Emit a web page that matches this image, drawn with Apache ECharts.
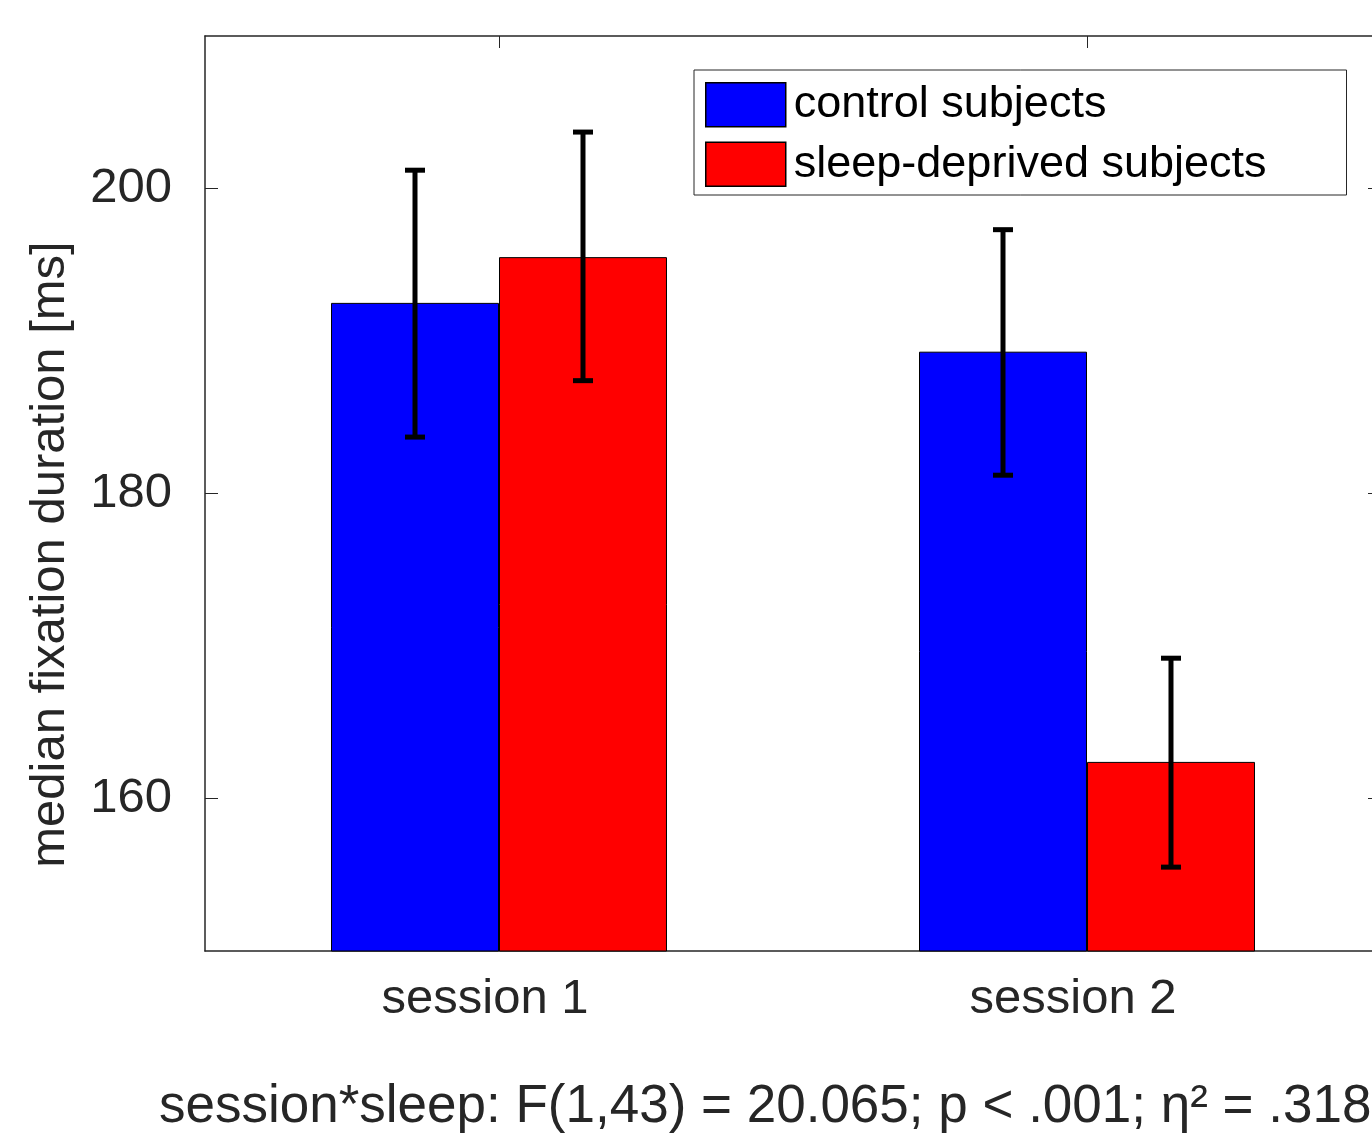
<!DOCTYPE html>
<html>
<head>
<meta charset="utf-8">
<script src="https://cdn.jsdelivr.net/npm/echarts@6/dist/echarts.min.js"></script>
<style>html,body{margin:0;padding:0;background:#fff;overflow:hidden;width:1372px;height:1143px;}#c{width:1400px;height:1143px;}</style>
</head>
<body>
<div id="c"></div>
<script>
const categories = ['session 1', 'session 2'];
const seriesNames = ['control subjects', 'sleep-deprived subjects'];
const controlMeans = [192.5, 189.3];
const sleepMeans = [195.5, 162.4];
const controlLow = [183.7, 181.2];
const controlHigh = [201.2, 197.3];
const sleepLow = [187.4, 155.5];
const sleepHigh = [203.7, 169.2];
const yTicks = [160, 180, 200];
const statsText = 'session*sleep: F(1,43) = 20.065; p < .001; η² = .318';

const FONT = '"Liberation Sans", Arial, Helvetica, sans-serif';
const TXT = '#262626';
const BAR_FRAC = 0.2857;

function errData(low, high) {
  return categories.map((c, i) => [i, low[i], high[i]]);
}
function makeErr(side) {
  return function (params, api) {
    const idx = api.value(0);
    const lo = api.coord([idx, api.value(1)]);
    const hi = api.coord([idx, api.value(2)]);
    const band = api.size([1, 0])[0];
    const off = side * band * BAR_FRAC / 2;
    const x = lo[0] + off;
    const cap = 10;
    const st = { stroke: '#000', lineWidth: 5 };
    return {
      type: 'group',
      children: [
        { type: 'line', shape: { x1: x, y1: lo[1], x2: x, y2: hi[1] }, style: st },
        { type: 'line', shape: { x1: x - cap, y1: lo[1], x2: x + cap, y2: lo[1] }, style: st },
        { type: 'line', shape: { x1: x - cap, y1: hi[1], x2: x + cap, y2: hi[1] }, style: st }
      ]
    };
  };
}

const chart = echarts.init(document.getElementById('c'), null, { renderer: 'canvas', width: 1400, height: 1143 });
chart.setOption({
  animation: false,
  backgroundColor: '#fff',
  textStyle: { fontFamily: FONT },
  title: {
    text: statsText,
    left: 159,
    top: 1081,
    padding: 0,
    textStyle: { fontFamily: FONT, fontSize: 53, fontWeight: 'normal', color: TXT }
  },
  legend: {
    orient: 'vertical',
    left: 694,
    top: 70,
    padding: [12, 80, 8, 11],
    itemWidth: 80,
    itemHeight: 44,
    itemGap: 14,
    borderColor: '#262626',
    borderWidth: 1,
    backgroundColor: '#fff',
    icon: 'rect',
    itemStyle: { borderColor: '#000', borderWidth: 1.5 },
    textStyle: { fontFamily: FONT, fontSize: 45, lineHeight: 44, color: '#000', padding: [0, 0, 0, 3] },
    data: seriesNames
  },
  grid: { left: 205, top: 36, width: 1176, bottom: 192, containLabel: false },
  xAxis: [
    {
      type: 'category',
      data: categories,
      position: 'bottom',
      axisLine: { lineStyle: { color: TXT, width: 1.5 } },
      axisTick: { show: true, inside: true, alignWithLabel: true, length: 12, lineStyle: { color: TXT } },
      axisLabel: { fontFamily: FONT, fontSize: 49, color: TXT, margin: 24, padding: [0, 28, 0, 0] },
      splitLine: { show: false }
    },
    {
      type: 'category',
      data: categories,
      position: 'top',
      axisLine: { lineStyle: { color: TXT, width: 1.5 } },
      axisTick: { show: true, inside: true, alignWithLabel: true, length: 12, lineStyle: { color: TXT } },
      axisLabel: { show: false },
      splitLine: { show: false }
    }
  ],
  yAxis: [
    {
      type: 'value',
      min: 150, max: 210, interval: 10,
      position: 'left',
      name: 'median fixation duration [ms]',
      nameLocation: 'middle',
      nameGap: 130,
      nameTextStyle: { fontFamily: FONT, fontSize: 49, color: TXT, padding: [0, 122, 0, 0] },
      axisLine: { show: true, lineStyle: { color: TXT, width: 1.5 } },
      axisTick: { show: true, inside: true, length: 13, lineStyle: { color: TXT },
        customValues: yTicks },
      axisLabel: { fontFamily: FONT, fontSize: 49, color: TXT, margin: 33,
        customValues: yTicks },
      splitLine: { show: false }
    },
    {
      type: 'value',
      min: 150, max: 210, interval: 10,
      position: 'right',
      axisLine: { show: true, lineStyle: { color: TXT, width: 1.5 } },
      axisTick: { show: true, inside: true, length: 13, lineStyle: { color: TXT },
        customValues: yTicks },
      axisLabel: { show: false },
      splitLine: { show: false }
    }
  ],
  series: [
    {
      name: seriesNames[0], type: 'bar', data: controlMeans,
      barWidth: (BAR_FRAC * 100) + '%', barGap: '0%',
      itemStyle: { color: '#0000ff', borderColor: '#000', borderWidth: 1 }
    },
    {
      name: seriesNames[1], type: 'bar', data: sleepMeans,
      barWidth: (BAR_FRAC * 100) + '%', barGap: '0%',
      itemStyle: { color: '#ff0000', borderColor: '#000', borderWidth: 1 }
    },
    { type: 'custom', renderItem: makeErr(-1), data: errData(controlLow, controlHigh), z: 5 },
    { type: 'custom', renderItem: makeErr(1), data: errData(sleepLow, sleepHigh), z: 5 }
  ]
});
</script>
</body>
</html>
